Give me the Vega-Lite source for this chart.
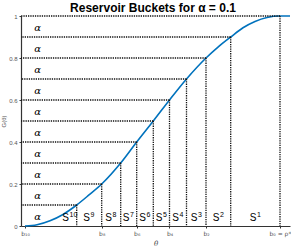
{
  "$schema": "https://vega.github.io/schema/vega-lite/v6.json",
  "width": 269,
  "height": 210,
  "autosize": {"type": "none"},
  "padding": {"left": 21, "top": 16, "right": 1, "bottom": 24},
  "background": "white",
  "config": {"view": {"stroke": null}},
  "datasets": {
    "heading": [{"t": "Reservoir Buckets for α = 0.1"}],
    "buckets": [
      {"b": 51.7, "G": 0.1},
      {"b": 76.7, "G": 0.2},
      {"b": 95.7, "G": 0.3},
      {"b": 111.7, "G": 0.4},
      {"b": 128.3, "G": 0.5},
      {"b": 144.5, "G": 0.6},
      {"b": 161.5, "G": 0.7},
      {"b": 181, "G": 0.8},
      {"b": 205.7, "G": 0.9},
      {"b": 255, "G": 1}
    ],
    "curve": [
      {"theta": 0, "G": 0},
      {"theta": 12, "G": 0.006},
      {"theta": 25, "G": 0.025},
      {"theta": 38, "G": 0.055},
      {"theta": 51.7, "G": 0.1},
      {"theta": 64, "G": 0.148},
      {"theta": 76.7, "G": 0.2},
      {"theta": 95.7, "G": 0.3},
      {"theta": 111.7, "G": 0.4},
      {"theta": 128.3, "G": 0.5},
      {"theta": 144.5, "G": 0.6},
      {"theta": 161.5, "G": 0.7},
      {"theta": 181, "G": 0.8},
      {"theta": 193, "G": 0.852},
      {"theta": 205.7, "G": 0.9},
      {"theta": 218, "G": 0.944},
      {"theta": 230, "G": 0.974},
      {"theta": 242, "G": 0.993},
      {"theta": 255, "G": 1},
      {"theta": 265, "G": 1}
    ],
    "alphas": [
      {"G": 0.05}, {"G": 0.15}, {"G": 0.25}, {"G": 0.35}, {"G": 0.45},
      {"G": 0.55}, {"G": 0.65}, {"G": 0.75}, {"G": 0.85}, {"G": 0.95}
    ],
    "slabels": [
      {"theta": 42, "n": "10"},
      {"theta": 63, "n": "9"},
      {"theta": 85, "n": "8"},
      {"theta": 102.5, "n": "7"},
      {"theta": 119, "n": "6"},
      {"theta": 135.5, "n": "5"},
      {"theta": 152, "n": "4"},
      {"theta": 170.5, "n": "3"},
      {"theta": 192.5, "n": "2"},
      {"theta": 229.5, "n": "1"}
    ]
  },
  "layer": [
    {
      "data": {"name": "curve"},
      "mark": {"type": "line", "color": "#0072BD", "strokeWidth": 1.6, "interpolate": "monotone"},
      "encoding": {
        "x": {
          "field": "theta", "type": "quantitative",
          "scale": {"domain": [-4, 265], "nice": false, "zero": false},
          "axis": {
            "title": "θ", "titleFont": "DejaVu Serif", "titleFontStyle": "italic", "titleFontWeight": "normal", "titleFontSize": 7, "titleColor": "#444", "titlePadding": 3,
            "values": [0, 51.7, 76.7, 95.7, 111.7, 128.3, 144.5, 161.5, 181, 205.7, 255],
            "labelExpr": "['b₁₀','b₉','b₈','b₇','b₆','b₅','b₄','b₃','b₂','b₁','b₀ = ρ*'][indexof([0, 51.7, 76.7, 95.7, 111.7, 128.3, 144.5, 161.5, 181, 205.7, 255], datum.value)]",
            "labelFont": "DejaVu Sans", "labelFontSize": 6, "labelColor": "#555", "labelPadding": 2,
            "labelOverlap": false, "labelFlush": false,
            "domainColor": "#333", "domainWidth": 1.2, "tickColor": "#333", "tickSize": 2, "grid": false
          }
        },
        "y": {
          "field": "G", "type": "quantitative",
          "scale": {"domain": [0, 1], "nice": false},
          "axis": {
            "title": "G(θ)", "titleFont": "Liberation Sans", "titleFontWeight": "normal", "titleFontSize": 6, "titleColor": "#555", "titlePadding": 2,
            "values": [0, 0.1, 0.2, 0.3, 0.4, 0.5, 0.6, 0.7, 0.8, 0.9, 1],
            "format": "~g",
            "labelFont": "Liberation Sans", "labelFontSize": 6, "labelColor": "#555", "labelPadding": 2,
            "labelOverlap": false, "labelFlush": false,
            "domainColor": "#333", "domainWidth": 1.2, "tickColor": "#333", "tickSize": 2, "grid": false
          }
        }
      }
    },
    {
      "data": {"name": "buckets"},
      "mark": {"type": "rule", "color": "#111", "strokeWidth": 1.3, "strokeDash": [1.3, 1]},
      "encoding": {
        "x": {"field": "b", "type": "quantitative"},
        "x2": {"datum": -4},
        "y": {"field": "G", "type": "quantitative"}
      }
    },
    {
      "data": {"name": "buckets"},
      "mark": {"type": "rule", "color": "#111", "strokeWidth": 1.3, "strokeDash": [1.3, 1]},
      "encoding": {
        "x": {"field": "b", "type": "quantitative"},
        "y": {"field": "G", "type": "quantitative"},
        "y2": {"datum": 0}
      }
    },
    {
      "data": {"name": "alphas"},
      "mark": {"type": "text", "font": "DejaVu Serif", "fontStyle": "italic", "fontSize": 10, "color": "#000", "baseline": "middle", "align": "center", "dy": 1},
      "encoding": {
        "x": {"datum": 12.5, "type": "quantitative"},
        "y": {"field": "G", "type": "quantitative"},
        "text": {"value": "α"}
      }
    },
    {
      "data": {"name": "slabels"},
      "mark": {"type": "text", "font": "Liberation Sans", "fontSize": 10, "color": "#000", "baseline": "alphabetic", "align": "right", "dx": 2},
      "encoding": {
        "x": {"field": "theta", "type": "quantitative"},
        "y": {"datum": 0.024, "type": "quantitative"},
        "text": {"value": "S"}
      }
    },
    {
      "data": {"name": "slabels"},
      "mark": {"type": "text", "font": "Liberation Sans", "fontSize": 7, "color": "#000", "baseline": "alphabetic", "align": "left", "dx": 2.5, "dy": -4},
      "encoding": {
        "x": {"field": "theta", "type": "quantitative"},
        "y": {"datum": 0.024, "type": "quantitative"},
        "text": {"field": "n"}
      }
    },
    {
      "data": {"name": "heading"},
      "mark": {"type": "text", "font": "Liberation Sans", "fontSize": 12, "fontWeight": "bold", "color": "#000", "baseline": "alphabetic", "align": "center"},
      "encoding": {
        "x": {"datum": 128, "type": "quantitative"},
        "y": {"datum": 1.019, "type": "quantitative"},
        "text": {"field": "t"}
      }
    }
  ]
}
